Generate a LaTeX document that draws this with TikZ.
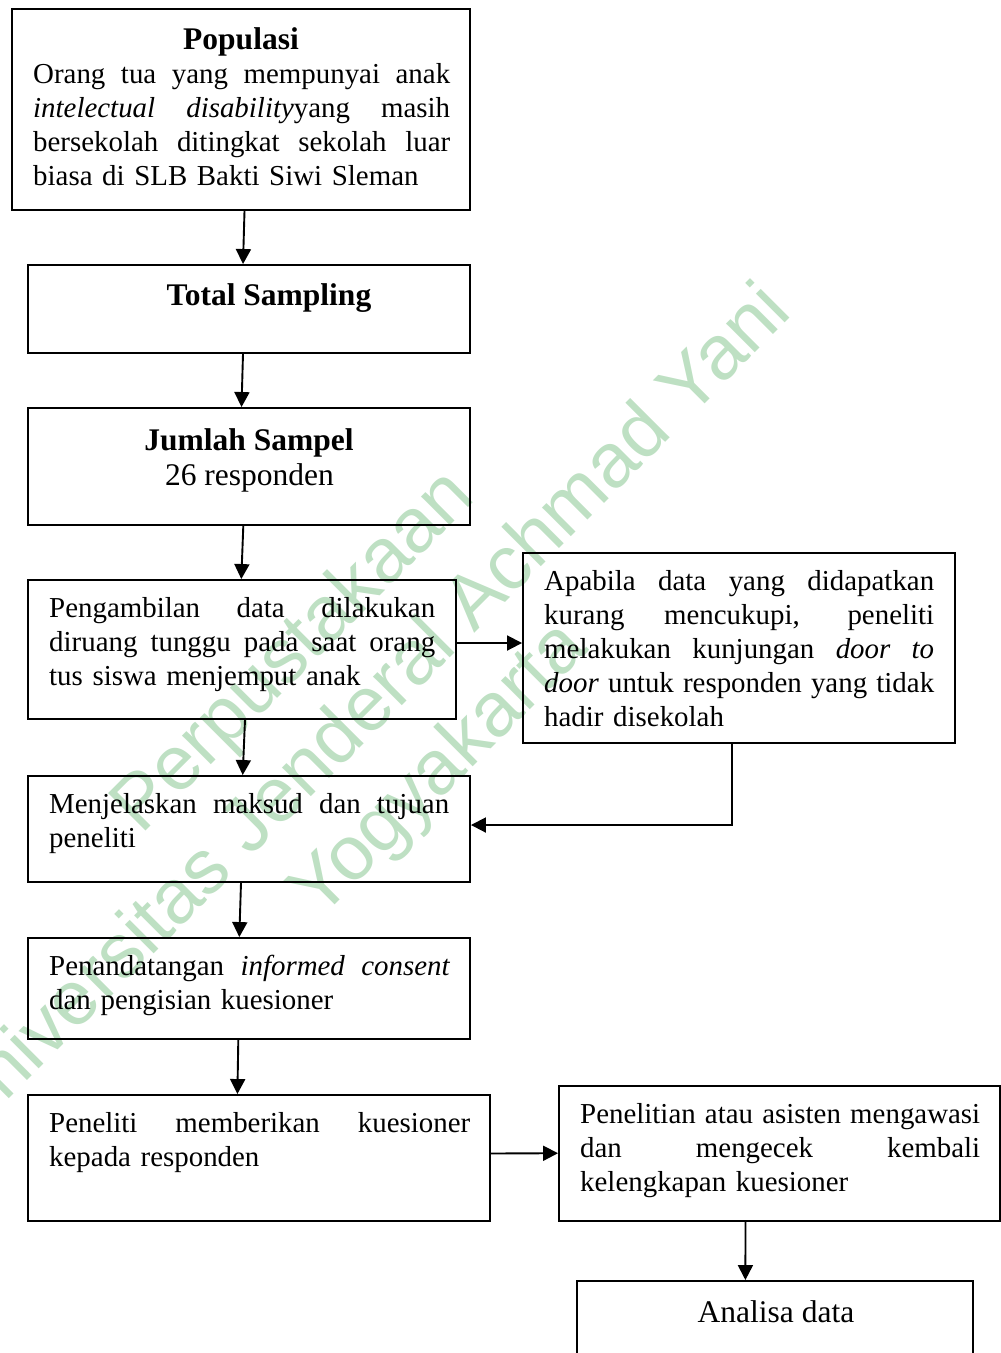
\documentclass[tikz,border=0pt]{standalone}
\usepackage{fontspec}
\setmainfont{Liberation Serif}
\newfontfamily\wmfont{Liberation Sans}
\usetikzlibrary{arrows.meta,calc}
\definecolor{wm}{RGB}{190,224,195}
\newcommand\bodysz{\fontsize{28.9}{34.2}\selectfont}
\newcommand\titlesz{\fontsize{31.5}{35}\selectfont}
\newcommand\jl[2]{\leavevmode\hbox to #1{\spaceskip=0.25em plus 1fil\relax #2}}
\begin{document}
\begin{tikzpicture}[x=1pt,y=-1pt,
  bx/.style={draw, line width=1.9pt, inner sep=0pt, rectangle},
  body/.style={anchor=base west, inner sep=0pt, font=\bodysz},
  ttl/.style={anchor=base, inner sep=0pt, font=\titlesz\bfseries},
  ttn/.style={anchor=base, inner sep=0pt, font=\titlesz},
  arr/.style={line width=1.9pt, -{Triangle[length=15pt,width=15pt]}},
  wmk/.style={anchor=base, rotate=45, text=wm, font=\wmfont\fontsize{77}{80}\selectfont, inner sep=0pt}]
\useasboundingbox (0,0) rectangle (1001,1353);
% watermark
\node[wmk] (wm1) at (309,667) {Perpustakaan};
\node[wmk] (wm2) at (380,728) {Universitas Jenderal Achmad Yani};
\node[wmk] (wm3) at (455,785) {Yogyakarta};
% boxes
\node[bx, minimum width=458pt, minimum height=201pt] (pop) at (241,109.5) {};
\node[bx, minimum width=442pt, minimum height=88pt] (tot) at (249,309) {};
\node[bx, minimum width=442pt, minimum height=117pt] (jum) at (249,466.5) {};
\node[bx, minimum width=428pt, minimum height=139pt] (pen) at (242,649.5) {};
\node[bx, minimum width=432pt, minimum height=190pt] (apa) at (739,648) {};
\node[bx, minimum width=442pt, minimum height=106pt] (men) at (249,829) {};
\node[bx, minimum width=442pt, minimum height=101pt] (ttd) at (249,988.5) {};
\node[bx, minimum width=462pt, minimum height=126pt] (pem) at (259,1158) {};
\node[bx, minimum width=441pt, minimum height=135pt] (pgw) at (779.5,1153.5) {};
\node[bx, minimum width=396pt, minimum height=89pt] (ana) at (775,1325.5) {};
% texts
\node[ttl] (popH) at (241,49.3) {Populasi};
\node[body, text width=417pt] (popT) at (33,83.3) {\jl{417pt}{Orang tua yang mempunyai anak}\\
\jl{417pt}{\textit{intelectual disability}yang masih}\\
\jl{417pt}{bersekolah ditingkat sekolah luar}\\
biasa di SLB Bakti Siwi Sleman};
\node[ttl] (totH) at (269,305.5) {Total Sampling};
\node[ttl] (jumH) at (249,450) {Jumlah Sampel};
\node[ttn] (jumT) at (249.5,485) {26 responden};
\node[body, text width=386pt] (penT) at (49,617) {\jl{386pt}{Pengambilan data dilakukan}\\
\jl{386pt}{diruang tunggu pada saat orang}\\
tus siswa menjemput anak};
\node[body, text width=390pt] (apaT) at (544,590) {\jl{390pt}{Apabila data yang didapatkan}\\
\jl{390pt}{kurang mencukupi, peneliti}\\
\jl{390pt}{melakukan kunjungan \textit{door to}}\\
\jl{390pt}{\textit{door} untuk responden yang tidak}\\
hadir disekolah};
\node[body, text width=400pt] (menT) at (49,813) {\jl{400pt}{Menjelaskan maksud dan tujuan}\\
peneliti};
\node[body, text width=401pt] (ttdT) at (49,975) {\jl{401pt}{Penandatangan \textit{informed consent}}\\
dan pengisian kuesioner};
\node[body, text width=421pt] (pemT) at (49,1132) {\jl{421pt}{Peneliti memberikan kuesioner}\\
kepada responden};
\node[body, text width=400pt] (pgwT) at (580,1123.3) {\jl{400pt}{Penelitian atau asisten mengawasi}\\
\jl{400pt}{dan mengecek kembali}\\
kelengkapan kuesioner};
\node[ttn] (anaT) at (776,1322.3) {Analisa data};
% connectors
\draw[arr] ($(pop.south)+(3.5,0)$) -- ($(tot.north)+(-6,0)$);
\draw[arr] ($(tot.south)+(-6,0)$) -- ($(jum.north)+(-7.5,0)$);
\draw[arr] ($(jum.south)+(-5.7,0)$) -- ($(pen.north)+(-0.7,0)$);
\draw[arr] ($(pen.south)+(3,0)$) -- ($(men.north)+(-6.3,0)$);
\draw[arr] ($(pen.east)+(0,-6.5)$) -- ($(apa.west)+(0,-5)$);
\draw[arr] ($(apa.south)+(-7,0)$) |- ($(men.east)+(0,-4)$);
\draw[arr] ($(men.south)+(-8,0)$) -- ($(ttd.north)+(-9.7,0)$);
\draw[arr] ($(ttd.south)+(-10.7,0)$) -- ($(pem.north)+(-21.6,0)$);
\draw[arr] ($(pem.east)+(0,-4.5)$) -- ($(pgw.west)+(0,-0.3)$);
\draw[arr] ($(pgw.south)+(-34,0)$) -- ($(ana.north)+(-29.6,0)$);
\end{tikzpicture}
\end{document}
